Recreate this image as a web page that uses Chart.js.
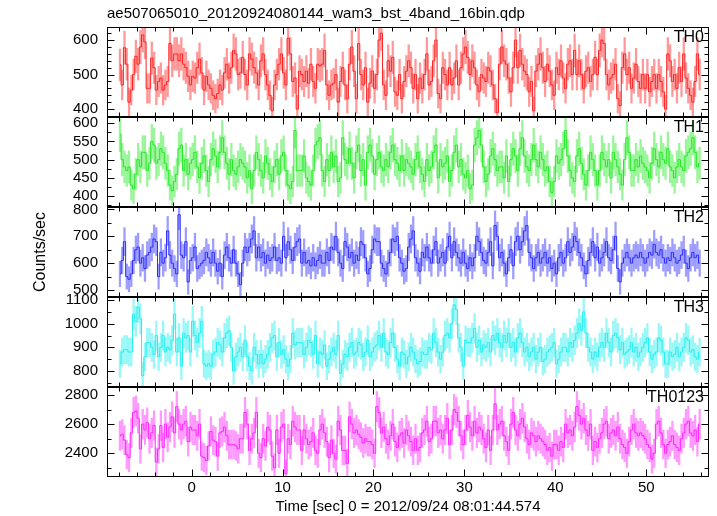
<!DOCTYPE html>
<html>
<head>
<meta charset="utf-8">
<title>ae507065010 wam3 bst 4band light curve</title>
<script src="https://cdn.jsdelivr.net/npm/chart.js@4.4.1/dist/chart.umd.min.js"></script>
<style>
  html, body { margin: 0; padding: 0; background: #fff; }
  #wrap { width: 717px; height: 516px; }
</style>
</head>
<body>
<div id="wrap"><canvas id="lcChart" width="717" height="516"></canvas></div>
<script>
// 0.25 s bins, first bin centre at -7.875 s
const T0 = -7.875;
const DT = 0.25;

const bandNames = ['TH0', 'TH1', 'TH2', 'TH3', 'TH0123'];

// count rates (counts/sec)
const th0 = [
  528,470,578,530,420,455,500,553,530,580, 615,595,460,460,548,520,455,480,490,455,
  470,480,590,540,560,560,540,560,530,520, 495,470,495,490,520,545,505,455,495,470,
  460,440,430,445,470,455,505,530,490,520, 570,560,500,505,550,500,470,560,545,520,
  505,470,540,560,500,470,440,395,470,500, 530,560,505,470,605,560,480,490,400,510,
  500,480,510,475,530,480,460,530,525,530, 570,470,440,470,475,500,420,480,520,470,
  430,530,580,510,430,590,500,470,520,420, 475,510,460,500,600,620,470,440,540,510,
  550,450,440,500,430,480,510,540,520,460, 500,430,490,460,500,560,470,480,540,600,
  445,430,520,500,470,520,470,490,540,470, 520,560,580,550,500,540,520,470,450,500,
  490,480,520,510,470,430,390,530,580,540, 530,490,450,520,600,520,570,530,510,500,
  450,480,395,510,530,560,520,480,530,510,
  470,440,520,500,540,490,460,530, 540,500,570,500,540,500,460,510,
  520,480,500,550,500,570,600,590, 500,470,490,500,530,430,410,520,
  560,500,520,460,490,530,480,460, 500,460,500,450,480,500,460,500,
  480,450,400,560,540,480,500,460,520, 480,560,490,460,440,420,480,560,500
];

const th1 = [
  570,500,480,470,480,430,420,460,500,480, 520,520,470,490,550,540,490,500,530,520,
  490,470,430,415,440,460,530,540,470,500, 460,490,500,520,480,450,490,510,470,440,
  500,530,510,480,520,560,520,490,460,500, 470,460,480,500,490,480,450,470,420,470,
  520,500,470,450,510,490,460,440,480,500, 460,510,520,470,430,420,440,580,470,470,
  470,510,450,440,430,470,540,
  550,560,470,440,500,470,520,480,510,440, 450,560,500,490,530,490,450,520,540,470,
  500,430,520,540,510,460,500,520,480,470, 500,480,520,540,500,490,470,510,470,
  500,490,480,460,500,520,480,460,440,500, 470,480,520,540,450,500,480,490,510,440,
  470,520,540,480,500,460,450,470,420,430, 540,560,580,540,480,440,460,510,530,500,
  470,480,480,450,510,440,500,530,510, 470,530,560,510,480,470,500,540,500,480,
  520,500,470,480,440,410,440,510,490,500, 530,580,510,470,450,440,510,530,490,460,
  430,470,520,500,470,430,470,520,500, 480,500,450,520,500,480,460,430,500,560,
  520,470,470,500,480,510,490,480,470,450, 490,530,500,480,520,500,490,530,480,
  470,450,480,500,480,470,510,520,530,560, 520,480,490
];

const th2 = [
  560,610,680,550,540,560,610,650,660,600, 620,580,630,640,660,690,680,550,640,600,
  620,720,630,600,580,560,780,630,620,680, 530,610,620,660,580,590,600,610,640,620,
  600,640,600,570,600,550,630,660,620,600, 650,600,560,520,600,660,640,660,690,720,
  620,660,620,640,600,630,610,620,660,610, 620,600,700,620,680,650,610,660,680,690,
  600,640,600,610,590,620,590,610,
  630,600,600,640,610,660,650,700,640,600, 580,680,660,620,640,600,630,610,680,670,
  620,560,580,650,690,680,680,600,580,560, 600,640,690,680,700,620,600,570,580,
  660,690,720,620,600,570,640,620,660,620, 600,650,680,600,620,640,600,660,700,620,
  680,640,620,600,640,600,580,620,590,620, 700,680,640,610,600,640,680,590,740,
  700,620,640,600,560,620,650,590,680,700, 650,680,720,740,640,620,580,620,640,600,
  620,640,600,620,580,600,560,620,640,600, 620,680,640,660,700,680,640,620,590,
  560,610,640,680,620,660,600,620,640,680, 620,610,650,700,580,530,600,620,640,620,
  600,620,630,620,640,620,600,620,640, 630,670,640,630,650,620,600,620,610,640,
  620,600,610,630,650,600,580,620,640,620, 630,600
];

const th3 = [
  830,880,890,890,880,880,1040,1010,1070,1020, 780,860,920,920,900,870,950,860,900,950,
  880,900,890,930,1040,880,940,820,960,940, 950,880,1010,950,920,960,1010,830,820,830,
  820,870,880,920,910,880,940,960,970,900, 800,860,880,900,860,930,860,820,800,900,
  870,830,870,830,850,870,900,940,950,860, 920,870,890,850,820,850,960,910,920,920,
  920,870,900,930,920,870,950,830,880,
  870,910,820,850,880,900,870,950,790,830, 870,860,900,920,870,880,920,910,860,880,
  930,860,880,900,910,950,900,960,880,870, 920,960,900,850,820,880,870,830,860,900,
  880,850,830,840,880,870,870,900,890,
  960,920,880,850,880,950,960,940,1000,1080, 1060,940,900,820,930,920,920,940,980,900,
  930,880,910,900,920,880,950,930,960,920, 900,950,920,960,900,920,880,940,960,920,
  880,900,860,880,900,850,880,900,840,850, 880,890,900,920,830,850,880,900,900,
  880,920,900,930,960,1000,970,1050,960,900, 880,850,880,860,900,920,900,960,920,880,
  950,960,940,890,920,870,880,890,920,880, 900,860,880,900,920,940,880,850,870,880,
  940,930,880,830,830,880,860,870,900, 860,880,900,940,930,880,890,860,850,880
];

const th0123 = [
  2520,2530,2490,2390,2370,2540,2680,2690,2640,2430, 2600,2560,2610,2500,2540,2590,2340,2430,2590,2440,
  2600,2510,2580,2650,2540,2720,2600,2560,2600,2620, 2480,2580,2560,2560,2520,2600,2380,2370,2350,2450,
  2550,2490,2480,2380,2540,2550,2580,2520,2460,2460, 2460,2450,2430,2500,2500,2680,2600,2420,2500,2540,
  2680,2400,2370,2500,2450,2580,2560,2380,2300,2560, 2400,2580,2600,2260,2500,2460,2620,2580,2560,2560,
  2420,2560,2500,2460,2480,2540,2420,2400,2560,
  2600,2540,2480,2370,2490,2400,2360,2620,2560,2420, 2420,2330,2650,2600,2540,2560,2530,2510,2470,2500,
  2480,2480,2460,2400,2720,2680,2540,2580,2500,2460, 2520,2600,2480,2440,2520,2540,2470,2560,2520,2480,
  2420,2500,2420,2440,2540,2560,2620,2480,2500,
  2620,2620,2540,2560,2500,2560,2640,2460,2560,2700, 2680,2620,2520,2460,2560,2660,2580,2520,2620,2540,
  2580,2560,2500,2440,2560,2420,2560,2740,2560,2600, 2620,2520,2480,2420,2600,2680,2560,2520,2600,2640,
  2580,2500,2460,2540,2520,2480,2520,2500,2480,
  2460,2420,2440,2380,2460,2460,2420,2480,2440,2600, 2540,2560,2520,2580,2720,2660,2600,2640,2560,2520,
  2600,2420,2480,2440,2500,2540,2600,2620,2500,2540, 2560,2520,2580,2500,2460,2440,2400,2480,2560,2600,
  2540,2520,2540,2520,2500,2460,2440,2360,2400,
  2600,2620,2540,2460,2400,2460,2480,2520,2460,2440, 2420,2500,2540,2600,2620,2540,2520,2560,2480,2600
];

const rates = [th0, th1, th2, th3, th0123];

// axis ranges and tick steps per panel
const yMin = [377, 370, 474, 732, 2237];
const yMax = [638, 617, 809, 1113, 2855];
const yMajor = [100, 50, 100, 100, 200];
const yMinor = [20, 25, 50, 50, 100];
const xMin = -9.3, xMax = 56.9;
const xMajor = 10, xMinor = 2;

const lineColors = ['#ff2020', '#22e822', '#2a2aff', '#22f0f0', '#ff22ff'];
const errColors = ['rgba(255,50,50,0.5)', 'rgba(50,235,50,0.5)', 'rgba(60,60,255,0.5)',
                   'rgba(50,240,240,0.5)', 'rgba(255,50,255,0.5)'];

Chart.defaults.font.family = '"Liberation Sans", Arial, sans-serif';
Chart.defaults.font.size = 15;
Chart.defaults.color = '#000';

function stepTicks(lo, hi, step) {
  const out = [];
  for (let k = Math.ceil(lo / step); k * step <= hi; k++) out.push({ value: k * step });
  return out;
}

const datasets = [];
rates.forEach((vals, i) => {
  datasets.push({
    type: 'line',
    label: bandNames[i],
    yAxisID: 'y' + i,
    data: vals.map((v, k) => ({ x: T0 + k * DT, y: v })),
    borderColor: lineColors[i],
    borderWidth: 1,
    pointRadius: 0,
    stepped: 'middle',
    fill: false,
    order: 0
  });
  datasets.push({
    type: 'bar',
    label: bandNames[i] + ' err',
    yAxisID: 'y' + i,
    data: vals.map((v, k) => {
      const e = Math.sqrt(v / DT);
      return { x: T0 + k * DT, y: [v - e, v + e] };
    }),
    backgroundColor: errColors[i],
    borderWidth: 0,
    barThickness: 1.6,
    grouped: false,
    order: 1
  });
});

const scales = {
  x: {
    type: 'linear',
    min: xMin,
    max: xMax,
    offset: false,
    grid: { display: false, drawTicks: false, offset: false },
    border: { display: false },
    afterBuildTicks(s) { s.ticks = stepTicks(s.min, s.max, xMajor); },
    ticks: { padding: 2, maxRotation: 0, autoSkip: false, callback: v => String(v) },
    title: {
      display: true,
      text: 'Time [sec] 0 = 2012/09/24 08:01:44.574',
      font: { size: 15 },
      padding: { top: 0, bottom: 0 }
    },
    afterFit(s) { s.height = 39; }
  }
};
// stacked axes are laid out bottom-up, so add the bottom panel first
for (let i = bandNames.length - 1; i >= 0; i--) {
  scales['y' + i] = {
    type: 'linear',
    position: 'left',
    stack: 'lc',
    stackWeight: 1,
    min: yMin[i],
    max: yMax[i],
    beginAtZero: false,
    grid: { display: false, drawTicks: false },
    border: { display: false },
    afterBuildTicks(s) { s.ticks = stepTicks(s.min, s.max, yMajor[i]); },
    ticks: { padding: 9, autoSkip: false, callback: v => String(v) },
    title: {
      display: i === 2,
      text: 'Counts/sec',
      font: { size: 16 },
      padding: { top: 31, bottom: 0 }
    },
    afterFit(s) { s.width = 107; }
  };
}

// per-panel clipping, frames, inward ticks and band labels
const panelFrames = {
  id: 'panelFrames',
  beforeDatasetDraw(chart, args) {
    const ys = args.meta.yScale;
    const a = chart.chartArea;
    const c = chart.ctx;
    c.save();
    c.beginPath();
    c.rect(a.left, ys.top, a.right - a.left, ys.bottom - ys.top);
    c.clip();
  },
  afterDatasetDraw(chart) {
    chart.ctx.restore();
  },
  afterDraw(chart) {
    const c = chart.ctx;
    const a = chart.chartArea;
    const xs = chart.scales.x;
    c.save();
    c.strokeStyle = '#000';
    c.lineWidth = 1;
    const seg = (x1, y1, x2, y2) => { c.beginPath(); c.moveTo(x1, y1); c.lineTo(x2, y2); c.stroke(); };
    const L = Math.round(a.left) + 0.5, R = Math.round(a.right) - 0.5;
    bandNames.forEach((name, i) => {
      const ys = chart.scales['y' + i];
      const top = Math.round(ys.top) + 0.5, bot = Math.round(ys.bottom) - 0.5;
      c.strokeRect(L, top, R - L, bot - top);
      for (const t of stepTicks(xs.min, xs.max, xMinor)) {
        const px = Math.round(xs.getPixelForValue(t.value)) + 0.5;
        const len = t.value % xMajor === 0 ? 7 : 4;
        seg(px, top, px, top + len);
        seg(px, bot, px, bot - len);
      }
      for (const t of stepTicks(ys.min, ys.max, yMinor[i])) {
        const py = Math.round(ys.getPixelForValue(t.value)) + 0.5;
        const len = t.value % yMajor[i] === 0 ? 7 : 4;
        seg(L, py, L + len, py);
        seg(R, py, R - len, py);
      }
      c.fillStyle = '#000';
      c.font = '16px "Liberation Sans", Arial, sans-serif';
      c.textAlign = 'right';
      c.textBaseline = 'middle';
      c.fillText(name, a.right - 5, ys.top + 11);
    });
    c.restore();
  }
};

new Chart(document.getElementById('lcChart').getContext('2d'), {
  type: 'line',
  data: { datasets: datasets },
  options: {
    responsive: false,
    animation: false,
    events: [],
    layout: { padding: { top: 0, right: 8, bottom: 0, left: 0 } },
    scales: scales,
    plugins: {
      legend: { display: false },
      tooltip: { enabled: false },
      title: {
        display: true,
        text: 'ae507065010_20120924080144_wam3_bst_4band_16bin.qdp',
        align: 'start',
        fullSize: false,
        font: { size: 15, weight: 'normal' },
        padding: { top: 5, bottom: 4 }
      }
    }
  },
  plugins: [panelFrames]
});
</script>
</body>
</html>
